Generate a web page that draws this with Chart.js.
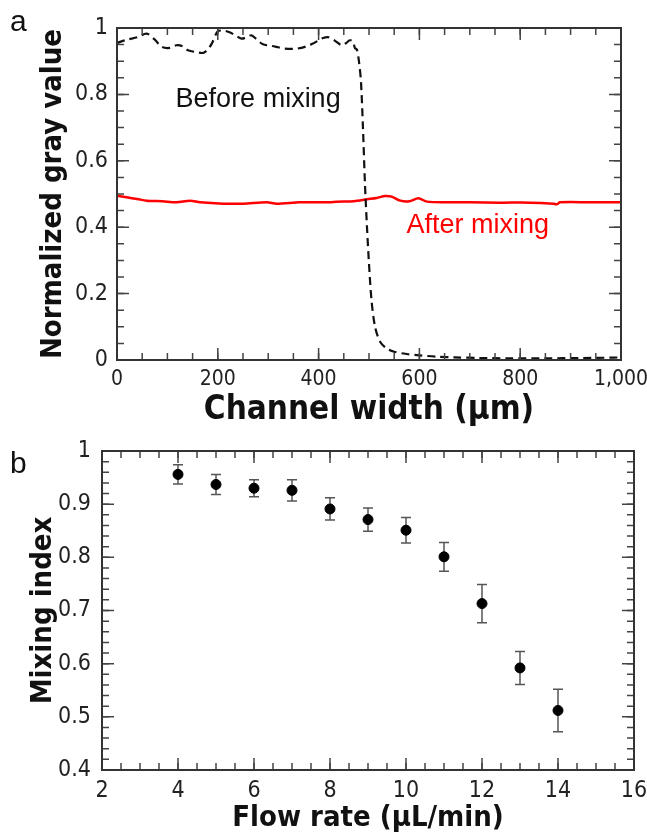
<!DOCTYPE html>
<html>
<head>
<meta charset="utf-8">
<title>Gray value and mixing index</title>
<script src="https://cdn.jsdelivr.net/npm/chart.js@4.4.0/dist/chart.umd.min.js"></script>
<style>
  body { margin: 0; background: #fff; }
  #wrap { position: relative; width: 647px; height: 837px; }
  #grayBox { position: absolute; left: 0; top: 0; width: 647px; height: 430px; }
  #mixBox { position: absolute; left: 0; top: 430px; width: 647px; height: 407px; }
</style>
</head>
<body>
<div id="wrap">
  <div id="grayBox"><canvas id="grayChart"></canvas></div>
  <div id="mixBox"><canvas id="mixChart"></canvas></div>
</div>
<script>
// Panel a: gray value profiles across the channel
const widthBefore = [0, 20, 40, 59, 75, 89, 105, 118, 130, 141,
  155, 171, 180, 188, 200, 212, 222, 235, 247, 257,
  267, 277, 287, 297, 307, 320, 333, 350, 366, 378,
  389, 399, 409, 420, 432, 446, 455, 462, 468, 472,
  476, 480, 484, 488, 492, 496, 500, 505, 512, 522,
  535, 550, 575, 600, 634, 670, 720, 780, 850, 920,
  980, 1000];
const grayBefore = [0.955, 0.965, 0.972, 0.983, 0.965, 0.943, 0.940, 0.948, 0.945, 0.933,
  0.928, 0.925, 0.935, 0.953, 0.990, 0.992, 0.988, 0.978, 0.968, 0.972,
  0.978, 0.966, 0.953, 0.948, 0.946, 0.942, 0.938, 0.937, 0.940, 0.946,
  0.953, 0.962, 0.970, 0.972, 0.962, 0.948, 0.955, 0.963, 0.960, 0.940,
  0.935, 0.900, 0.840, 0.700, 0.530, 0.400, 0.290, 0.180, 0.100, 0.055,
  0.035, 0.025, 0.018, 0.014, 0.010, 0.008, 0.006, 0.005, 0.005, 0.006,
  0.007, 0.008];

const widthAfter = [0, 19, 40, 59, 90, 118, 145, 165, 211, 250,
  297, 317, 363, 422, 436, 470, 496, 515, 532, 545,
  562, 580, 598, 615, 654, 700, 760, 820, 866, 873,
  879, 940, 1000];
const grayAfter = [0.495, 0.490, 0.485, 0.480, 0.478, 0.475, 0.480, 0.475, 0.471, 0.471,
  0.475, 0.471, 0.475, 0.475, 0.477, 0.478, 0.484, 0.488, 0.494, 0.492,
  0.480, 0.478, 0.487, 0.477, 0.475, 0.475, 0.474, 0.474, 0.471, 0.469,
  0.475, 0.475, 0.475];

// Panel b: mixing index vs flow rate
const flowRate = [4, 5, 6, 7, 8, 9, 10, 11, 12, 13, 14];
const mixingIndex = [0.956, 0.937, 0.930, 0.926, 0.891, 0.871, 0.851, 0.801, 0.713, 0.592, 0.512];
const mixingErr = [0.018, 0.019, 0.016, 0.020, 0.021, 0.022, 0.024, 0.027, 0.036, 0.031, 0.040];

const axisFamily = '"DejaVu Sans Condensed", "DejaVu Sans"';
const tickFont = size => ({ family: axisFamily, size: size });
const titleFont = size => ({ family: axisFamily, size: size, weight: 'bold' });

function toPoints(xs, ys) {
  return xs.map((x, i) => ({ x: x, y: ys[i] }));
}

function plainNumber(v) {
  return Number(v.toFixed(2)).toLocaleString('en-US');
}

// Frame with inward major/minor ticks on all four sides
const boxTicks = {
  id: 'boxTicks',
  afterDraw(chart, args, opts) {
    const { ctx, chartArea: a, scales: { x, y } } = chart;
    ctx.save();
    ctx.strokeStyle = '#444';
    ctx.lineWidth = 1.5;
    const ticksOn = (scale, step, len) => {
      const n = Math.round((scale.max - scale.min) / step);
      ctx.beginPath();
      for (let i = 0; i <= n; i++) {
        const p = scale.getPixelForValue(scale.min + i * step);
        if (scale.isHorizontal()) {
          ctx.moveTo(p, a.bottom); ctx.lineTo(p, a.bottom - len);
          ctx.moveTo(p, a.top); ctx.lineTo(p, a.top + len);
        } else {
          ctx.moveTo(a.left, p); ctx.lineTo(a.left + len, p);
          ctx.moveTo(a.right, p); ctx.lineTo(a.right - len, p);
        }
      }
      ctx.stroke();
    };
    ticksOn(x, opts.xMinor, 7);
    ticksOn(x, opts.xMajor, 12);
    ticksOn(y, opts.yMinor, 7);
    ticksOn(y, opts.yMajor, 12);
    ctx.lineWidth = 2;
    ctx.strokeStyle = '#333';
    ctx.strokeRect(a.left, a.top, a.width, a.height);

    // panel letter
    ctx.fillStyle = '#111';
    ctx.font = '30px "Liberation Sans", Arial, sans-serif';
    ctx.textAlign = 'left';
    ctx.textBaseline = 'alphabetic';
    ctx.fillText(opts.letter, opts.letterX, opts.letterY);

    // curve labels placed in data units
    (opts.notes || []).forEach(n => {
      ctx.fillStyle = n.color;
      ctx.font = '27px "Liberation Sans", Arial, sans-serif';
      ctx.textAlign = 'center';
      ctx.textBaseline = 'middle';
      ctx.fillText(n.text, x.getPixelForValue(n.x), y.getPixelForValue(n.y));
    });
    ctx.restore();
  }
};

// Vertical error bars with caps, drawn under the points
const errorBars = {
  id: 'errorBars',
  beforeDatasetsDraw(chart, args, opts) {
    if (!opts.err) return;
    const { ctx, scales: { x, y } } = chart;
    ctx.save();
    ctx.strokeStyle = '#555';
    ctx.lineWidth = 1.5;
    flowRate.forEach((f, i) => {
      const px = x.getPixelForValue(f);
      const top = y.getPixelForValue(mixingIndex[i] + opts.err[i]);
      const bot = y.getPixelForValue(mixingIndex[i] - opts.err[i]);
      ctx.beginPath();
      ctx.moveTo(px, top); ctx.lineTo(px, bot);
      ctx.moveTo(px - 5, top); ctx.lineTo(px + 5, top);
      ctx.moveTo(px - 5, bot); ctx.lineTo(px + 5, bot);
      ctx.stroke();
    });
    ctx.restore();
  }
};

Chart.register(boxTicks, errorBars);

function axis(opts) {
  return {
    type: 'linear',
    min: opts.min,
    max: opts.max,
    grid: { display: false, drawTicks: false },
    border: { display: false },
    ticks: {
      stepSize: opts.step,
      font: tickFont(opts.tickSize || 23),
      color: '#222',
      padding: opts.pad,
      maxRotation: 0,
      autoSkip: false,
      callback: plainNumber
    },
    title: {
      display: true,
      text: opts.title,
      font: titleFont(opts.titleSize),
      color: '#111',
      padding: opts.titlePad
    },
    // fixed axis band; edge labels may run into the page margin
    afterFit: s => {
      if (s.isHorizontal()) s.height = opts.band; else s.width = opts.band;
      s.paddingLeft = s.paddingRight = s.paddingTop = s.paddingBottom = 0;
    }
  };
}

new Chart(document.getElementById('grayChart'), {
  type: 'line',
  data: {
    datasets: [{
      label: 'Before mixing',
      data: toPoints(widthBefore, grayBefore),
      borderColor: '#111',
      borderWidth: 2.2,
      borderDash: [8, 5],
      pointRadius: 0,
      tension: 0.3
    }, {
      label: 'After mixing',
      data: toPoints(widthAfter, grayAfter),
      borderColor: '#ff0000',
      borderWidth: 2.5,
      pointRadius: 0,
      tension: 0.3
    }]
  },
  options: {
    responsive: true,
    maintainAspectRatio: false,
    animation: false,
    layout: { padding: { left: 0, top: 28, right: 26, bottom: 0 } },
    plugins: {
      legend: { display: false },
      tooltip: { enabled: false },
      boxTicks: {
        xMajor: 200, xMinor: 50, yMajor: 0.2, yMinor: 0.05,
        letter: 'a', letterX: 10, letterY: 31,
        notes: [
          { text: 'Before mixing', x: 280, y: 0.786, color: '#111' },
          { text: 'After mixing', x: 716, y: 0.404, color: '#ff0000' }
        ]
      }
    },
    scales: {
      x: axis({ min: 0, max: 1000, step: 200, pad: 7, tickSize: 21, title: 'Channel width (μm)', titleSize: 33,
        titlePad: { top: 0, bottom: 0 }, band: 70 }),
      y: axis({ min: 0, max: 1, step: 0.2, pad: 9, title: 'Normalized gray value', titleSize: 29,
        titlePad: { top: 36, bottom: 0 }, band: 117 })
    }
  }
});

new Chart(document.getElementById('mixChart'), {
  type: 'scatter',
  data: {
    datasets: [{
      label: 'Mixing index',
      data: toPoints(flowRate, mixingIndex),
      backgroundColor: '#000',
      borderColor: '#000',
      pointRadius: 5
    }]
  },
  options: {
    responsive: true,
    maintainAspectRatio: false,
    animation: false,
    layout: { padding: { left: 0, top: 21, right: 13, bottom: 0 } },
    plugins: {
      legend: { display: false },
      tooltip: { enabled: false },
      errorBars: { err: mixingErr },
      boxTicks: {
        xMajor: 2, xMinor: 0.5, yMajor: 0.1, yMinor: 0.02,
        letter: 'b', letterX: 10, letterY: 43
      }
    },
    scales: {
      x: axis({ min: 2, max: 16, step: 2, pad: 7, title: 'Flow rate (μL/min)', titleSize: 29,
        titlePad: { top: 0, bottom: 1 }, band: 67 }),
      y: axis({ min: 0.4, max: 1, step: 0.1, pad: 11, title: 'Mixing index', titleSize: 29,
        titlePad: { top: 26, bottom: 0 }, band: 102 })
    }
  }
});
</script>
</body>
</html>
